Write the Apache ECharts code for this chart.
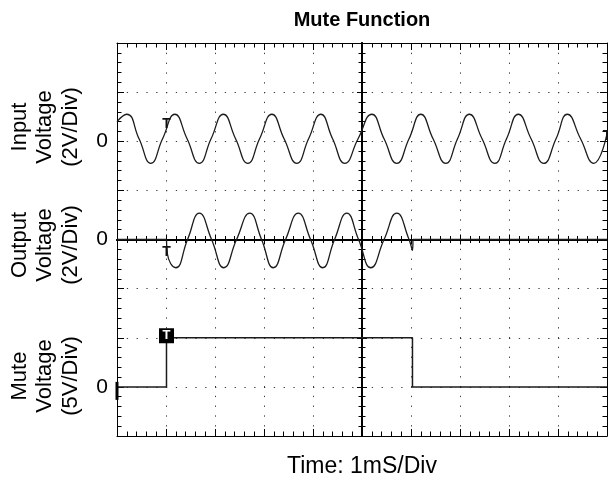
<!DOCTYPE html>
<html>
<head>
<meta charset="utf-8">
<title>Mute Function</title>
<script src="https://cdn.jsdelivr.net/npm/echarts@6/dist/echarts.min.js"></script>
<style>
  html, body { margin: 0; padding: 0; background: #fff; }
  #chart { width: 608px; height: 485px; }
</style>
</head>
<body>
<div id="chart"></div>
<script>
// Scope capture: time in ms relative to screen centre, voltages in volts.
const inputTime = [-5.00, -4.80, -4.55, -4.31, -4.07, -3.82, -3.57, -3.32, -3.08,
  -2.83, -2.58, -2.33, -2.09, -1.84, -1.59, -1.33, -1.09, -0.84, -0.60, -0.35, -0.08,
  0.20, 0.45, 0.71, 0.96, 1.20, 1.45, 1.71, 1.95, 2.19, 2.45, 2.71, 2.95,
  3.19, 3.45, 3.71, 3.96, 4.19, 4.46, 4.73, 5.00];
const inputVolt = [0.80, 1.10, 0.10, -0.90, 0.10, 1.10, 0.10, -0.90, 0.10,
  1.10, 0.10, -0.90, 0.10, 1.10, 0.10, -0.90, 0.10, 1.10, 0.10, -0.90, 0.10,
  1.10, 0.10, -0.90, 0.10, 1.10, 0.10, -0.90, 0.10, 1.10, 0.10, -0.90, 0.10,
  1.10, 0.10, -0.90, 0.10, 1.10, 0.10, -0.90, 0.30];

// Output while unmuted (inverted copy of the input)
const outputTime = [-3.99, -3.97, -3.80, -3.56, -3.32, -3.07, -2.82, -2.56, -2.29,
  -2.05, -1.81, -1.56, -1.30, -1.05, -0.80, -0.56, -0.31, -0.07, 0.18, 0.45,
  0.71, 0.96, 1.03, 1.04];
const outputVolt = [0, -0.60, -1.15, 0, 1.07, 0, -1.15, 0, 1.07,
  0, -1.15, 0, 1.07, 0, -1.15, 0, 1.07, 0, -1.15, 0,
  1.07, 0, -0.45, 0];
// Output idle (muted) stretches
const outputIdleBefore = [[-5.00, 0], [-3.99, 0]];
const outputIdleAfter = [[1.04, 0], [5.00, 0]];

const muteTime = [-5.00, -3.99, -3.99, 1.03, 1.03, 5.00];
const muteVolt = [0, 0, 5, 5, 0, 0];

// trigger markers
const triggerTime = -3.99;
const inputTriggerLevel = 0.71;
const inputEdgeMarker = [5.00, 0.20];
const outputTriggerLevel = -0.53;
const muteTriggerLevel = 5;

const zeroTicks = [0];

const pair = (t, v) => t.map((x, i) => [x, v[i]]);

const FONT = '"Liberation Sans", Arial, Helvetica, sans-serif';
const INK = '#000';
const TRACE = '#1c1c1c';

function borderX(pos) {
  return {
    type: 'value', position: pos, min: -5, max: 5, interval: 1,
    axisLabel: { show: false },
    axisLine: { show: true, onZero: false, lineStyle: { color: INK, width: 1 } },
    axisTick: { show: true, inside: true, length: 7, lineStyle: { color: INK, width: 1 } },
    minorTick: { show: true, splitNumber: 5, length: 4.5, lineStyle: { color: INK, width: 1 } },
    splitLine: { show: false }, minorSplitLine: { show: false }
  };
}
function borderY(pos) {
  return {
    type: 'value', position: pos, min: -4, max: 4, interval: 1,
    axisLabel: { show: false },
    axisLine: { show: true, onZero: false, lineStyle: { color: INK, width: 1 } },
    axisTick: { show: true, inside: true, length: 7, lineStyle: { color: INK, width: 1 } },
    minorTick: { show: true, splitNumber: 5, length: 4.5, lineStyle: { color: INK, width: 1 } },
    splitLine: { show: false }, minorSplitLine: { show: false }
  };
}
// centre graticule lines carry ticks on both sides
function centreX(inside) {
  return {
    type: 'value', position: 'bottom', min: -5, max: 5, interval: 1,
    axisLabel: { show: false },
    axisLine: { show: true, onZero: true, onZeroAxisIndex: 0, lineStyle: { color: INK, width: 2 } },
    axisTick: { show: true, inside: inside, length: 5, lineStyle: { color: INK, width: 1 } },
    minorTick: { show: true, splitNumber: 5, length: 3.5, lineStyle: { color: INK, width: 1 } },
    splitLine: { show: false }
  };
}
function centreY(inside) {
  return {
    type: 'value', position: 'left', min: -4, max: 4, interval: 1,
    axisLabel: { show: false },
    axisLine: { show: true, onZero: true, onZeroAxisIndex: 0, lineStyle: { color: INK, width: 2 } },
    axisTick: { show: true, inside: inside, length: 5, lineStyle: { color: INK, width: 1 } },
    minorTick: { show: true, splitNumber: 5, length: 3.5, lineStyle: { color: INK, width: 1 } },
    splitLine: { show: false }
  };
}
// channel scales: only the zero reference is labelled
function channelY(min, max) {
  return {
    type: 'value', position: 'left', min: min, max: max,
    axisLine: { show: false, onZero: false },
    axisTick: { show: false },
    splitLine: { show: false },
    axisLabel: {
      show: true, customValues: zeroTicks, formatter: v => String(v),
      color: INK, fontSize: 21, fontFamily: FONT, margin: 9
    }
  };
}

const dots = { color: '#3a3a3a', width: 1, type: [1.3, 8.5] };

const xMain = borderX('bottom');
xMain.splitLine = { show: true, lineStyle: dots };
xMain.name = 'Time: 1mS/Div';
xMain.nameLocation = 'middle';
xMain.nameGap = 19;
xMain.nameTextStyle = { color: INK, fontSize: 23, fontFamily: FONT };

const yMain = borderY('left');
yMain.splitLine = { show: true, lineStyle: dots };

const lineStyle = { color: TRACE, width: 1.3 };
const sideFont = '22px ' + FONT;

const tLabel = {
  show: true, position: 'inside', formatter: 'T', color: '#111',
  fontSize: 14, fontWeight: 'bold', fontFamily: FONT
};
const bareMarker = { symbol: 'rect', symbolSize: 1, itemStyle: { color: 'rgba(0,0,0,0)' }, label: tLabel };

const option = {
  animation: false,
  backgroundColor: '#fff',
  grid: { left: 117, top: 43, width: 490, height: 393, outerBoundsMode: 'none', containLabel: false },
  xAxis: [xMain, borderX('top'), centreX(true), centreX(false)],
  yAxis: [
    yMain, borderY('right'), centreY(true), centreY(false),
    channelY(-12, 4),   // input: 2 V/div
    channelY(-8, 8),    // output: 2 V/div
    channelY(-5, 35)    // mute: 5 V/div
  ],
  graphic: [
    { type: 'text', x: 362, y: 20, z: 10,
      style: { text: 'Mute Function', fill: INK, font: 'bold 20px ' + FONT,
        align: 'center', verticalAlign: 'middle', textAlign: 'center', textVerticalAlign: 'middle' } },
    { type: 'text', x: 45, y: 127, rotation: Math.PI / 2, z: 10,
      style: { text: 'Input\nVoltage\n(2V/Div)', fill: INK, font: sideFont, lineHeight: 25.5,
        align: 'center', verticalAlign: 'middle', textAlign: 'center', textVerticalAlign: 'middle' } },
    { type: 'text', x: 45, y: 245, rotation: Math.PI / 2, z: 10,
      style: { text: 'Output\nVoltage\n(2V/Div)', fill: INK, font: sideFont, lineHeight: 25.5,
        align: 'center', verticalAlign: 'middle', textAlign: 'center', textVerticalAlign: 'middle' } },
    { type: 'text', x: 45, y: 376, rotation: Math.PI / 2, z: 10,
      style: { text: 'Mute\nVoltage\n(5V/Div)', fill: INK, font: sideFont, lineHeight: 25.5,
        align: 'center', verticalAlign: 'middle', textAlign: 'center', textVerticalAlign: 'middle' } }
  ],
  series: [
    {
      name: 'Input', type: 'line', xAxisIndex: 0, yAxisIndex: 4,
      data: pair(inputTime, inputVolt), smooth: true, showSymbol: false,
      lineStyle: lineStyle, z: 3,
      markPoint: {
        animation: false,
        data: [
          Object.assign({ coord: [triggerTime, inputTriggerLevel] }, bareMarker),
          Object.assign({ coord: inputEdgeMarker }, bareMarker)
        ]
      }
    },
    {
      name: 'Output', type: 'line', xAxisIndex: 0, yAxisIndex: 5,
      data: pair(outputTime, outputVolt), smooth: true, showSymbol: false,
      lineStyle: lineStyle, z: 3,
      markPoint: {
        animation: false,
        data: [Object.assign({ coord: [triggerTime, outputTriggerLevel] }, bareMarker)]
      }
    },
    {
      name: 'Output', type: 'line', xAxisIndex: 0, yAxisIndex: 5,
      data: outputIdleBefore, showSymbol: false, lineStyle: lineStyle, z: 3
    },
    {
      name: 'Output', type: 'line', xAxisIndex: 0, yAxisIndex: 5,
      data: outputIdleAfter, showSymbol: false, lineStyle: lineStyle, z: 3
    },
    {
      name: 'Mute', type: 'line', xAxisIndex: 0, yAxisIndex: 6,
      data: pair(muteTime, muteVolt), showSymbol: false,
      lineStyle: { color: TRACE, width: 1.5 }, z: 3,
      markPoint: {
        animation: false,
        data: [
          { coord: [triggerTime, muteTriggerLevel], symbol: 'rect', symbolSize: [15, 15],
            symbolOffset: [0, -2], itemStyle: { color: '#000' },
            label: { show: true, position: 'inside', formatter: 'T', color: '#fff',
              fontSize: 13, fontWeight: 'bold', fontFamily: FONT } },
          { coord: [-5, 0], symbol: 'rect', symbolSize: [3, 18], symbolOffset: [0, 4],
            itemStyle: { color: '#000' }, label: { show: false } }
        ]
      }
    }
  ]
};

const chart = echarts.init(document.getElementById('chart'), null, { renderer: 'canvas' });
chart.setOption(option);
</script>
</body>
</html>
